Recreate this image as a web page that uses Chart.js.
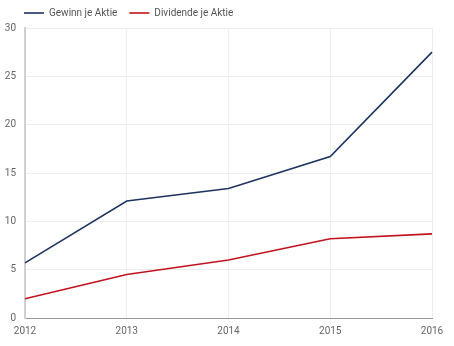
<!DOCTYPE html>
<html>
<head>
<meta charset="utf-8">
<script src="https://cdn.jsdelivr.net/npm/chart.js@4/dist/chart.umd.min.js"></script>
<style>
  html, body { margin: 0; padding: 0; background: #fff; }
  #wrap { width: 454px; height: 346px; position: relative; }
</style>
</head>
<body>
<div id="wrap"><canvas id="c"></canvas></div>
<script>
// Jahre und Kennzahlen je Aktie
const years = ['2012', '2013', '2014', '2015', '2016'];
const gewinnJeAktie = [5.7, 12.1, 13.4, 16.7, 27.5];
const dividendeJeAktie = [2.0, 4.5, 6.0, 8.2, 8.7];
const yTicks = [0, 5, 10, 15, 20, 25, 30];

Chart.defaults.font.family = 'Roboto, "Open Sans", sans-serif';
Chart.defaults.font.size = 10;
Chart.defaults.color = '#666';

// Legende etwas nach rechts einrücken
const legendIndent = {
  id: 'legendIndent',
  beforeDraw(chart) {
    if (chart.legend) chart.legend.left = 12;
  }
};

new Chart(document.getElementById('c'), {
  type: 'line',
  data: {
    labels: years,
    datasets: [
      {
        label: 'Gewinn je Aktie',
        data: gewinnJeAktie,
        borderColor: '#1d3461',
        backgroundColor: '#1d3461',
        borderWidth: 1.6,
        pointRadius: 0,
        tension: 0,
        fill: false
      },
      {
        label: 'Dividende je Aktie',
        data: dividendeJeAktie,
        borderColor: '#c1121f',
        backgroundColor: '#c1121f',
        borderWidth: 1.6,
        pointRadius: 0,
        tension: 0,
        fill: false
      }
    ]
  },
  plugins: [legendIndent],
  options: {
    responsive: true,
    maintainAspectRatio: false,
    animation: false,
    layout: { padding: { left: 0, right: 22, top: -4, bottom: 2 } },
    plugins: {
      legend: {
        position: 'top',
        align: 'start',
        labels: {
          usePointStyle: true,
          pointStyle: 'line',
          pointStyleWidth: 20,
          boxHeight: 8,
          padding: 12,
          color: '#555',
          font: { size: 10 }
        }
      },
      tooltip: { enabled: false }
    },
    scales: {
      x: {
        offset: false,
        grid: { color: '#eeeeee', drawTicks: false },
        border: { color: '#9a9a9a', width: 1 },
        ticks: { padding: 7, color: '#666' }
      },
      y: {
        min: 0,
        max: 30,
        afterBuildTicks: (scale) => { scale.ticks = yTicks.map(v => ({ value: v })); },
        afterFit: (scale) => { scale.width = 25; },
        grid: { color: '#eeeeee', drawTicks: false },
        border: { color: '#d0d0d0', width: 2 },
        ticks: { padding: 9, color: '#666' }
      }
    }
  }
});
</script>
</body>
</html>
